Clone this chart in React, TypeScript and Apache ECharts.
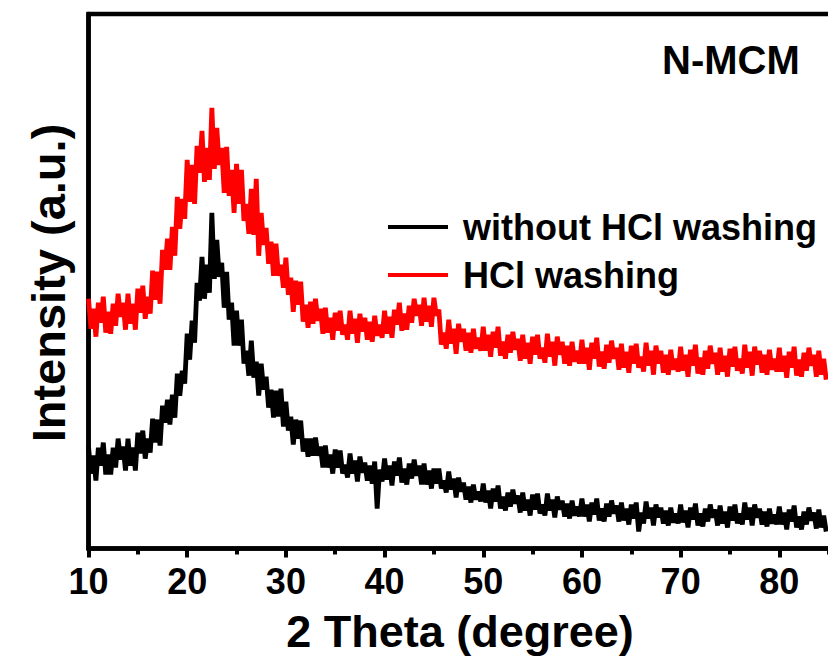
import React, { useEffect, useRef } from "react";
import * as echarts from "echarts";

// 2θ sampling (degree)
const twoTheta = [
  10, 10.25, 10.5, 10.75, 11, 11.25, 11.5, 11.75, 12, 12.25, 12.5, 12.75, 13, 13.25, 13.5, 13.75, 14, 14.25, 14.5, 14.75,
  15, 15.25, 15.5, 15.75, 16, 16.25, 16.5, 16.75, 17, 17.25, 17.5, 17.75, 18, 18.25, 18.5, 18.75, 19, 19.25, 19.5, 19.75,
  20, 20.25, 20.5, 20.75, 21, 21.25, 21.5, 21.75, 22, 22.25, 22.5, 22.75, 23, 23.25, 23.5, 23.75, 24, 24.25, 24.5, 24.75,
  25, 25.25, 25.5, 25.75, 26, 26.25, 26.5, 26.75, 27, 27.25, 27.5, 27.75, 28, 28.25, 28.5, 28.75, 29, 29.25, 29.5, 29.75,
  30, 30.25, 30.5, 30.75, 31, 31.25, 31.5, 31.75, 32, 32.25, 32.5, 32.75, 33, 33.25, 33.5, 33.75, 34, 34.25, 34.5, 34.75,
  35, 35.25, 35.5, 35.75, 36, 36.25, 36.5, 36.75, 37, 37.25, 37.5, 37.75, 38, 38.25, 38.5, 38.75, 39, 39.25, 39.5, 39.75,
  40, 40.25, 40.5, 40.75, 41, 41.25, 41.5, 41.75, 42, 42.25, 42.5, 42.75, 43, 43.25, 43.5, 43.75, 44, 44.25, 44.5, 44.75,
  45, 45.25, 45.5, 45.75, 46, 46.25, 46.5, 46.75, 47, 47.25, 47.5, 47.75, 48, 48.25, 48.5, 48.75, 49, 49.25, 49.5, 49.75,
  50, 50.25, 50.5, 50.75, 51, 51.25, 51.5, 51.75, 52, 52.25, 52.5, 52.75, 53, 53.25, 53.5, 53.75, 54, 54.25, 54.5, 54.75,
  55, 55.25, 55.5, 55.75, 56, 56.25, 56.5, 56.75, 57, 57.25, 57.5, 57.75, 58, 58.25, 58.5, 58.75, 59, 59.25, 59.5, 59.75,
  60, 60.25, 60.5, 60.75, 61, 61.25, 61.5, 61.75, 62, 62.25, 62.5, 62.75, 63, 63.25, 63.5, 63.75, 64, 64.25, 64.5, 64.75,
  65, 65.25, 65.5, 65.75, 66, 66.25, 66.5, 66.75, 67, 67.25, 67.5, 67.75, 68, 68.25, 68.5, 68.75, 69, 69.25, 69.5, 69.75,
  70, 70.25, 70.5, 70.75, 71, 71.25, 71.5, 71.75, 72, 72.25, 72.5, 72.75, 73, 73.25, 73.5, 73.75, 74, 74.25, 74.5, 74.75,
  75, 75.25, 75.5, 75.75, 76, 76.25, 76.5, 76.75, 77, 77.25, 77.5, 77.75, 78, 78.25, 78.5, 78.75, 79, 79.25, 79.5, 79.75,
  80, 80.25, 80.5, 80.75, 81, 81.25, 81.5, 81.75, 82, 82.25, 82.5, 82.75, 83, 83.25, 83.5, 83.75, 84, 84.25, 84.5, 84.75,
];

// Intensity (a.u.), without HCl washing
const withoutHCl = [
  102, 75, 93, 68, 101, 83, 106, 74, 94, 74, 101, 81, 110, 89, 102, 78, 110, 83, 101, 78,
  116, 95, 118, 90, 110, 96, 130, 106, 129, 103, 143, 126, 149, 124, 154, 131, 175, 153, 178, 165,
  215, 189, 228, 206, 266, 248, 292, 250, 284, 256, 336, 270, 309, 272, 286, 241, 277, 229, 246, 203,
  238, 203, 229, 185, 198, 173, 208, 171, 187, 153, 185, 159, 172, 141, 159, 131, 158, 132, 160, 122,
  147, 118, 132, 104, 129, 110, 128, 97, 110, 92, 110, 93, 111, 93, 102, 81, 103, 81, 94, 75,
  99, 81, 98, 75, 84, 71, 95, 75, 88, 67, 92, 76, 86, 68, 83, 65, 87, 40, 79, 67,
  90, 69, 83, 63, 87, 73, 91, 66, 80, 64, 85, 70, 89, 73, 83, 64, 85, 64, 78, 60,
  80, 65, 80, 60, 68, 56, 77, 59, 70, 51, 71, 57, 66, 49, 62, 46, 64, 49, 57, 47,
  65, 46, 58, 40, 60, 47, 63, 40, 52, 38, 56, 42, 59, 45, 53, 36, 56, 38, 49, 33,
  54, 39, 55, 35, 44, 33, 55, 38, 49, 31, 52, 39, 48, 32, 45, 30, 48, 33, 42, 32,
  50, 32, 44, 27, 46, 34, 50, 28, 40, 27, 45, 32, 48, 35, 43, 27, 46, 28, 40, 24,
  44, 30, 46, 17, 36, 25, 47, 30, 41, 23, 44, 31, 41, 25, 38, 23, 41, 26, 35, 25,
  44, 26, 38, 21, 41, 29, 45, 23, 35, 22, 40, 27, 44, 31, 39, 23, 43, 25, 37, 21,
  42, 28, 44, 25, 35, 24, 46, 29, 41, 23, 44, 31, 40, 24, 37, 22, 40, 25, 34, 24,
  42, 24, 36, 19, 39, 27, 43, 21, 32, 19, 37, 24, 41, 28, 36, 20, 39, 21, 33, 17,
];

// Intensity (a.u.), HCl washing
const withHCl = [
  250, 220, 240, 212, 246, 226, 252, 216, 237, 215, 245, 223, 255, 232, 246, 219, 255, 225, 245, 219,
  260, 236, 263, 230, 252, 235, 278, 249, 277, 245, 299, 279, 310, 279, 322, 293, 352, 320, 350, 330,
  389, 347, 384, 345, 403, 376, 418, 367, 401, 369, 441, 380, 421, 384, 401, 356, 402, 353, 379, 336,
  385, 345, 379, 328, 345, 315, 360, 314, 370, 293, 336, 304, 321, 285, 307, 273, 305, 273, 284, 261,
  291, 254, 271, 237, 268, 244, 267, 227, 244, 221, 247, 225, 250, 228, 240, 215, 241, 216, 231, 209,
  236, 218, 238, 214, 224, 209, 238, 215, 230, 206, 235, 217, 231, 209, 227, 207, 233, 213, 224, 211,
  238, 215, 232, 211, 239, 224, 246, 218, 235, 219, 243, 226, 250, 233, 244, 223, 251, 227, 243, 222,
  251, 233, 239, 204, 216, 200, 229, 205, 220, 195, 225, 207, 220, 198, 216, 196, 220, 200, 211, 198,
  222, 198, 214, 192, 217, 201, 222, 193, 207, 190, 214, 196, 217, 199, 210, 188, 214, 190, 206, 185,
  212, 194, 214, 190, 201, 186, 215, 192, 207, 183, 212, 194, 207, 185, 203, 183, 207, 187, 198, 185,
  209, 185, 201, 179, 206, 190, 211, 182, 197, 180, 204, 186, 208, 190, 201, 179, 205, 181, 197, 176,
  203, 185, 205, 181, 192, 177, 206, 183, 198, 174, 203, 185, 198, 176, 194, 174, 199, 179, 190, 177,
  202, 178, 194, 172, 199, 183, 204, 175, 191, 174, 198, 180, 203, 185, 196, 174, 201, 177, 193, 172,
  200, 182, 202, 178, 190, 175, 204, 181, 197, 173, 202, 184, 198, 176, 194, 174, 199, 179, 190, 177,
  201, 177, 193, 171, 197, 181, 202, 173, 189, 172, 196, 178, 201, 183, 194, 172, 198, 174, 190, 169,
];

const seriesNames = ["without HCl washing", "HCl washing"];
const seriesColors = ["#000000", "#ff0000"];
const xTickValues = [10, 20, 30, 40, 50, 60, 70, 80];

const FONT = "'Liberation Sans', Arial, Helvetica, sans-serif";

export default function App() {
  const ref = useRef<HTMLDivElement>(null);

  useEffect(() => {
    if (!ref.current) return;
    const chart = echarts.init(ref.current, undefined, { renderer: "svg" });
    const seriesData = [withoutHCl, withHCl];
    chart.setOption({
      animation: false,
      backgroundColor: "#ffffff",
      grid: {
        left: 88.5,
        right: 0,
        top: 14,
        bottom: 110.5,
        show: true,
        borderColor: "#000",
        borderWidth: 4.5,
        backgroundColor: "transparent",
      },
      legend: {
        orient: "vertical",
        left: 383,
        top: 204,
        itemWidth: 60,
        itemHeight: 4,
        itemGap: 12,
        icon: "rect",
        data: seriesNames,
        textStyle: {
          fontFamily: FONT,
          fontSize: 36,
          fontWeight: "bold",
          color: "#000",
          padding: [0, 0, 0, 10],
        },
      },
      xAxis: {
        type: "value",
        min: 10,
        max: 90,
        interval: 10,
        axisLine: { show: true, lineStyle: { color: "#000", width: 4.5 } },
        axisTick: { show: true, length: 9, lineStyle: { color: "#000", width: 4 } },
        minorTick: { show: true, splitNumber: 2, length: 6, lineStyle: { color: "#000", width: 4 } },
        splitLine: { show: false },
        axisLabel: {
          margin: 15,
          fontFamily: FONT,
          fontSize: 36,
          fontWeight: "bold",
          color: "#000",
          formatter: (v: number) => (xTickValues.includes(v) ? String(v) : ""),
        },
      },
      yAxis: {
        type: "value",
        min: 0,
        max: 535,
        axisLine: { show: true, lineStyle: { color: "#000", width: 4.5 } },
        axisTick: { show: false },
        axisLabel: { show: false },
        splitLine: { show: false },
      },
      series: seriesNames.map((name, k) => ({
        name,
        type: "line",
        showSymbol: false,
        symbol: "none",
        color: seriesColors[k],
        lineStyle: { color: seriesColors[k], width: 4.8, join: "miter", miterLimit: 2 },
        data: twoTheta.map((x, i) => [x, seriesData[k][i]]),
      })),
      graphic: [
        {
          type: "text",
          x: 460,
          y: 631,
          style: {
            text: "2 Theta (degree)",
            fontFamily: FONT,
            fontSize: 45,
            fontWeight: "bold",
            fill: "#000",
            align: "center",
            verticalAlign: "middle",
          },
        },
        {
          type: "text",
          x: 48,
          y: 283,
          rotation: Math.PI / 2,
          style: {
            text: "Intensity (a.u.)",
            fontFamily: FONT,
            fontSize: 47,
            fontWeight: "bold",
            fill: "#000",
            align: "center",
            verticalAlign: "middle",
          },
        },
        {
          type: "text",
          x: 662,
          y: 60,
          style: {
            text: "N-MCM",
            fontFamily: FONT,
            fontSize: 40,
            fontWeight: "bold",
            fill: "#000",
            align: "left",
            verticalAlign: "middle",
          },
        },
      ],
    });
    return () => chart.dispose();
  }, []);

  return (
    <div style={{ position: "absolute", left: 0, top: 0, width: 828, height: 659, overflow: "hidden" }}>
      <div ref={ref} style={{ width: 881, height: 659 }} />
    </div>
  );
}
